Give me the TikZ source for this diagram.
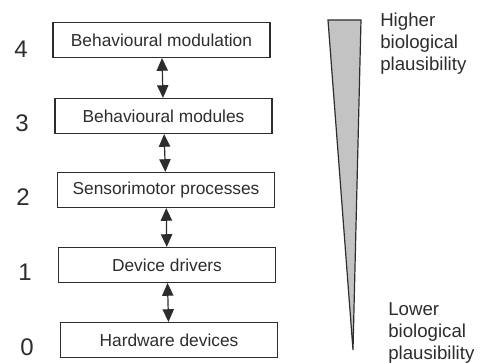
\documentclass[tikz,border=0pt]{standalone}
\usepackage{fontspec}
\setmainfont{Liberation Sans}
\usetikzlibrary{arrows.meta}
\definecolor{ink}{RGB}{45,45,45}
\definecolor{wedge}{RGB}{195,195,195}
\begin{document}
\begin{tikzpicture}[x=0.75pt,y=-0.75pt,
  layerbox/.style={draw=ink,line width=0.9pt,fill=white,minimum width=162.75pt,minimum height=26.25pt,inner sep=0pt,text=ink,font=\fontsize{13}{15.6}\selectfont},
  levelnum/.style={text=ink,font=\fontsize{18}{21}\selectfont,inner sep=0pt},
  sidetext/.style={text=ink,font=\fontsize{14}{16.5}\selectfont,align=left,inner sep=0pt,anchor=north west},
  link/.style={draw=ink,line width=0.9pt,{Triangle[length=9.5pt,width=8.5pt]}-{Triangle[length=9.5pt,width=8.5pt]}}]
\useasboundingbox[fill=white] (0,0) rectangle (480,363);
% boxes
\node[layerbox] (b4) at (161.5,40) {Behavioural modulation};
\node[layerbox] (b3) at (163.5,116) {Behavioural modules};
\node[layerbox] (b2) at (166,190) {Sensorimotor processes};
\node[layerbox] (b1) at (167,265) {Device drivers};
\node[layerbox] (b0) at (169,340) {Hardware devices};
% level numbers
\node[levelnum] (n4) at (21,49) {4};
\node[levelnum] (n3) at (22,123) {3};
\node[levelnum] (n2) at (23,197) {2};
\node[levelnum] (n1) at (25,272) {1};
\node[levelnum] (n0) at (27,347) {0};
% connectors
\draw[link] (b4) -- (b3);
\draw[link] (b3) -- (b2);
\draw[link] (b2) -- (b1);
\draw[link] (b1) -- (b0);
% wedge
\draw[draw=ink,line width=0.9pt,fill=wedge,line join=miter] (328,20) -- (361,20) -- (353,350) -- cycle;
% side texts
\node[sidetext] (hi) at (380,13) {Higher\\biological\\plausibility};
\node[sidetext] (lo) at (388,302) {Lower\\biological\\plausibility};
\end{tikzpicture}
\end{document}
